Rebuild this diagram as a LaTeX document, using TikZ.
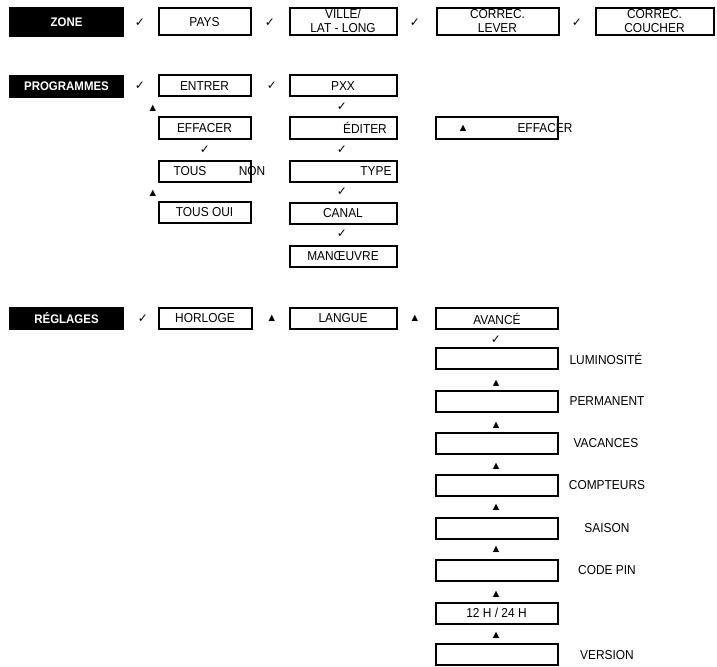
\documentclass[tikz,border=0pt]{standalone}
\usepackage{fontspec}
\setmainfont{Liberation Sans}[FakeStretch=0.92]
\newfontfamily\symfont{DejaVu Sans}
\tikzset{
  box/.style={draw, line width=2bp, inner sep=0pt, minimum height=21bp,
    font=\fontsize{13}{13}\selectfont},
  blk/.style={fill=black, text=white, inner sep=0pt, minimum width=115bp,
    minimum height=23bp, font=\bfseries\fontsize{12.5}{13}\selectfont},
  chk/.style={inner sep=0pt, font=\symfont\fontsize{12}{12}\selectfont},
  tri/.style={inner sep=0pt, font=\symfont\fontsize{8.5}{9}\selectfont},
  lbl/.style={inner sep=0pt, font=\fontsize{13}{13}\selectfont},
}
\begin{document}
\begin{tikzpicture}[x=1bp,y=-1bp]
\useasboundingbox (0,0) rectangle (717,667);
% ---------- ZONE row ----------
\node[blk, minimum height=30bp] (zone) at (66.5,22) {ZONE};
\node[chk] (c1) at (140,23) {✓};
\node[box, minimum width=92bp, minimum height=27bp] (pays) at (204.5,22) {PAYS};
\node[chk] (c2) at (270,23) {✓};
\node[box, minimum width=107bp, minimum height=27bp] (ville) at (343,22) {};
\node[lbl] (villet1) at (343,13.5) {VILLE/};
\node[lbl] (villet2) at (343,28) {LAT - LONG};
\node[chk] (c3) at (415,23) {✓};
\node[box, minimum width=122bp, minimum height=27bp] (lever) at (497.5,22) {};
\node[lbl] (levert1) at (497.5,14.5) {CORREC.};
\node[lbl] (levert2) at (497.5,28) {LEVER};
\node[chk] (c4) at (577,23) {✓};
\node[box, minimum width=118bp, minimum height=27bp] (coucher) at (654.5,22) {};
\node[lbl] (couchert1) at (654.5,14.5) {CORREC.};
\node[lbl] (couchert2) at (654.5,28) {COUCHER};
% ---------- PROGRAMMES ----------
\node[blk] (prog) at (66.5,86.5) {PROGRAMMES};
\node[chk] (c5) at (140,86) {✓};
\node[box, minimum width=92bp] (entrer) at (204.5,86) {ENTRER};
\node[chk] (c6) at (272,86) {✓};
\node[tri] (t1) at (153,108) {▲};
\node[box, minimum width=92bp] (effacer) at (204.5,128) {EFFACER};
\node[chk] (c7) at (205,150) {✓};
\node[box, minimum width=92bp] (tous) at (204.5,171.5) {};
\node[lbl] (toust) at (190,171) {TOUS};
\node[lbl] (non) at (252,171) {NON};
\node[tri] (t2) at (153,193) {▲};
\node[box, minimum width=92bp] (tousoui) at (204.5,212.5) {TOUS OUI};
% column 2
\node[box, minimum width=107bp] (pxx) at (343,86) {PXX};
\node[chk] (c8) at (342,107) {✓};
\node[box, minimum width=107bp] (editer) at (343,128) {};
\node[lbl] (editert) at (365,128) {ÉDITER};
\node[chk] (c9) at (342,150) {✓};
\node[box, minimum width=107bp] (type) at (343,171.5) {};
\node[lbl] (typet) at (376,171) {TYPE};
\node[chk] (c10) at (342,192) {✓};
\node[box, minimum width=107bp] (canal) at (343,213.5) {CANAL};
\node[chk] (c11) at (342,234) {✓};
\node[box, minimum width=107bp] (manoeuvre) at (343,256) {MANŒUVRE};
% right effacer
\node[box, minimum width=122bp] (eff2) at (497,128) {};
\node[tri] (t3) at (463,128) {▲};
\node[lbl] (eff2t) at (545,128) {EFFACER};
% ---------- REGLAGES ----------
\node[blk] (regl) at (66.5,318.5) {RÉGLAGES};
\node[chk] (c12) at (143,318.5) {✓};
\node[box, minimum width=93bp] (horloge) at (205,318.5) {HORLOGE};
\node[tri] (t4) at (272,318.5) {▲};
\node[box, minimum width=107bp] (langue) at (343,318.5) {LANGUE};
\node[tri] (t5) at (415,318.5) {▲};
\node[box, minimum width=122bp] (avance) at (497,318.5) {AVANCÉ};
\node[chk] (c13) at (496,340) {✓};
% column of settings
\node[box, minimum width=122bp] (b1) at (496.5,358.5) {};
\node[lbl] (l1) at (606,358.5) {LUMINOSITÉ};
\node[tri] (t6) at (496,383) {▲};
\node[box, minimum width=122bp] (b2) at (496.5,401.5) {};
\node[lbl] (l2) at (607,401.5) {PERMANENT};
\node[tri] (t7) at (496,425) {▲};
\node[box, minimum width=122bp] (b3) at (496.5,443.5) {};
\node[lbl] (l3) at (606,443.5) {VACANCES};
\node[tri] (t8) at (496,466) {▲};
\node[box, minimum width=122bp] (b4) at (496.5,485.5) {};
\node[lbl] (l4) at (607,485.5) {COMPTEURS};
\node[tri] (t9) at (496,507) {▲};
\node[box, minimum width=122bp] (b5) at (496.5,528) {};
\node[lbl] (l5) at (607,528) {SAISON};
\node[tri] (t10) at (496,549) {▲};
\node[box, minimum width=122bp] (b6) at (496.5,570.5) {};
\node[lbl] (l6) at (607,570.5) {CODE PIN};
\node[tri] (t11) at (496,594) {▲};
\node[box, minimum width=122bp] (b7) at (496.5,613) {12 H / 24 H};
\node[tri] (t12) at (496,635) {▲};
\node[box, minimum width=122bp] (b8) at (496.5,654.5) {};
\node[lbl] (l8) at (607,655) {VERSION};
\end{tikzpicture}
\end{document}
